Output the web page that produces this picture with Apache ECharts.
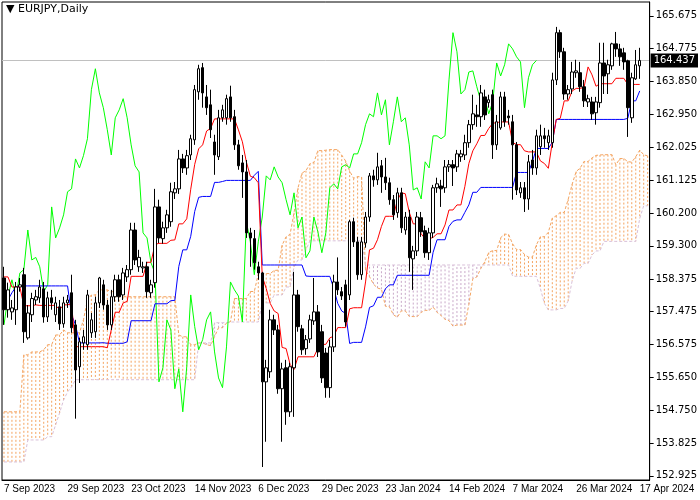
<!DOCTYPE html>
<html><head><meta charset="utf-8">
<script src="https://cdn.jsdelivr.net/npm/echarts@6/dist/echarts.min.js"></script>
<style>html,body{margin:0;padding:0;background:#fff}#c{width:700px;height:500px}</style>
</head><body><div id="c"></div>
<script>
// [open, close, low, high]
const candles = [
[158.41,157.53,157.11,158.72],[157.53,158.08,157.31,158.28],[157.47,157.58,157.25,157.80],[157.53,158.16,157.11,158.30],[158.16,158.22,158.03,158.41],
[158.50,156.92,156.61,158.69],[156.75,157.44,156.70,157.66],[157.39,157.84,157.19,158.00],[157.80,157.89,157.66,158.08],[157.86,158.16,157.72,158.36],
[158.11,157.33,157.17,158.30],[157.33,157.86,157.19,158.03],[157.86,157.72,157.53,158.08],[157.39,157.72,157.19,157.89],[157.61,157.14,156.97,157.80],
[157.14,157.72,157.03,157.89],[157.72,157.80,157.58,157.94],[158.00,157.03,156.89,158.50],[157.11,155.86,154.51,157.25],[155.95,156.64,155.50,156.75],
[156.61,156.78,156.42,156.97],[156.56,157.94,156.42,158.08],[156.89,157.25,156.75,157.44],[156.92,157.72,156.75,157.89],[157.72,158.41,157.58,158.44],
[158.22,157.66,157.53,158.36],[157.66,157.11,156.97,157.80],[157.11,157.89,156.97,158.08],[157.89,158.36,157.75,158.50],[158.36,157.89,157.75,158.50],
[157.94,158.55,157.80,158.69],[158.44,158.64,158.30,158.77],[158.64,159.74,158.50,159.94],[159.74,158.91,158.77,159.94],[158.72,158.98,158.58,159.19],
[158.69,158.72,158.55,158.86],[158.72,158.03,157.86,158.86],[158.00,158.22,157.86,158.36],[158.28,160.38,158.14,160.88],[160.38,159.52,159.38,160.58],
[159.50,159.80,159.36,159.97],[159.80,160.16,159.66,160.30],[159.97,160.80,159.83,161.05],[160.77,160.88,160.60,161.07],[160.88,161.71,160.74,161.96],
[161.71,161.46,161.32,161.85],[161.46,161.80,161.27,161.96],[161.82,162.27,161.68,162.38],[162.24,163.63,162.10,163.76],[163.57,164.21,163.35,164.32],
[164.24,163.54,163.13,164.37],[163.43,163.13,162.93,163.76],[163.21,162.52,162.29,163.63],[162.18,161.82,161.27,162.38],[161.77,162.85,161.68,163.07],
[162.85,163.07,162.74,163.21],[162.85,163.38,162.66,163.49],[163.43,162.85,162.74,163.74],[162.88,162.10,161.96,163.07],[162.10,161.52,161.41,162.24],
[161.60,161.35,160.63,161.82],[161.35,159.66,159.52,161.68],[159.66,159.52,158.72,159.80],[159.50,158.83,158.64,159.74],[158.72,158.55,158.36,158.86],
[158.55,155.53,153.17,158.58],[155.53,155.92,153.87,156.14],[155.81,157.25,155.64,157.53],[157.25,156.97,156.83,157.39],[156.97,155.34,155.20,157.11],
[155.34,155.89,153.87,156.06],[155.92,154.70,154.34,156.14],[154.70,155.95,154.56,156.06],[155.92,157.94,154.56,158.58],[157.94,157.06,156.92,158.08],
[157.00,156.42,156.28,157.11],[156.45,156.70,156.28,156.83],[156.72,157.25,156.61,157.39],[157.22,157.47,157.11,158.41],[157.47,156.36,156.22,157.66],
[156.92,155.64,155.50,157.11],[156.33,155.37,155.09,156.47],[155.37,156.50,155.09,156.70],[156.50,158.30,156.36,158.50],[158.30,158.08,157.94,158.98],
[158.03,157.91,157.80,158.16],[158.22,157.19,157.06,158.36],[157.94,159.97,157.80,160.02],[159.97,159.41,159.27,160.08],[159.41,158.50,158.36,159.55],
[158.50,159.41,158.36,159.55],[159.38,160.10,159.25,160.24],[160.10,161.24,159.97,161.32],[161.24,161.13,160.94,161.41],[161.13,161.49,160.99,161.88],
[161.52,161.21,160.77,161.68],[161.21,161.05,160.85,161.74],[161.05,160.58,160.44,161.19],[160.58,160.16,160.02,160.71],[160.22,160.77,160.08,160.91],
[160.77,159.80,159.66,160.91],[159.74,160.10,159.61,160.24],[160.10,158.97,158.58,160.30],[158.94,159.16,158.08,159.30],[159.16,160.10,159.02,160.24],
[160.08,159.69,159.55,160.24],[159.72,159.11,158.97,159.86],[159.11,159.66,158.91,159.80],[159.66,160.91,159.52,160.99],[160.91,161.02,160.77,161.19],
[160.96,160.88,160.38,161.13],[160.91,161.49,160.77,161.68],[161.49,161.55,161.35,161.68],[161.55,161.46,160.96,161.68],[161.49,161.85,161.35,161.96],
[161.77,161.85,161.63,161.96],[161.82,162.16,161.68,162.38],[162.16,162.66,162.02,162.79],[162.66,162.96,162.52,163.49],[162.93,162.88,162.60,163.21],
[162.88,163.54,162.60,163.76],[163.43,162.93,162.79,163.63],[163.27,163.35,163.13,163.49],[163.49,162.10,161.71,163.63],[162.10,162.74,161.96,162.93],
[162.57,163.43,162.52,163.57],[163.43,162.74,162.60,163.57],[162.90,162.85,162.66,163.07],[162.74,162.10,160.58,162.93],[162.10,160.85,160.71,162.18],
[160.77,160.91,160.63,161.07],[160.91,160.60,160.24,161.07],[160.60,161.63,160.30,161.82],[161.68,161.46,161.27,161.96],[161.46,162.35,161.27,162.52],
[162.05,162.35,161.82,162.66],[162.35,162.27,162.02,162.57],[162.16,162.35,161.96,162.52],[162.16,163.90,162.02,164.10],[163.90,165.21,163.76,165.37],
[165.21,164.68,164.51,165.29],[164.68,163.51,163.35,164.79],[163.51,163.63,163.35,163.76],[163.65,164.12,163.51,164.40],[164.10,164.15,163.96,164.46],
[164.10,163.71,163.57,164.40],[163.71,163.32,163.15,163.90],[163.29,163.38,163.15,163.49],[163.29,162.96,162.79,163.43],[162.99,163.29,162.66,163.43],
[163.27,164.37,163.13,164.93],[164.37,164.01,163.51,164.93],[164.07,164.32,163.51,164.46],[164.29,164.90,164.18,164.93],[164.90,164.76,164.54,165.23],
[164.76,164.54,164.29,164.90],[164.65,164.40,164.18,164.79],[164.43,163.13,162.32,164.46],[162.85,163.96,162.71,164.10],[163.93,164.32,163.90,164.73],
[164.29,164.44,163.93,164.79]
];
// Ichimoku values read where earlier history is off-chart
const tenkanEarly = [158.44,158.44,158.16,158.16,158.16,157.64,157.64,157.64];
const kijunEarly = [157.80,157.80,158.00,158.16,158.19,158.19,158.19,158.19,158.19,158.19,158.19,158.19,158.19,158.19,158.19,158.19,158.19,157.39,157.11,156.61,156.61,156.61,156.61,156.61,156.61];
const spanAEarly = [154.70,154.70,154.70,154.70,154.70,156.28,156.28,156.36,156.36,156.36,156.42,156.56,156.56,156.83,156.83,156.97,156.89,156.89,156.89,156.89,157.25,157.80,157.94,157.94,158.08,158.08,158.08,158.03,158.03,158.03,157.89,157.89,157.89,157.89,157.89,157.89,157.89,157.89,157.89,157.89,157.89,157.89,157.89,157.89,156.83,156.78,156.78,156.56,156.56,156.61,156.61];
const spanBEarly = [153.31,153.31,153.31,153.31,153.31,153.31,153.92,153.92,153.92,153.92,153.92,154.01,154.01,154.34,154.67,155.03,155.25,155.39,
155.59,155.59,155.59,155.59,155.59,155.59,155.59,155.59,155.59,155.59,155.59,155.59,155.59,155.59,155.59,155.59,155.59,155.59,155.59,155.59,155.59,155.59,155.59,155.59,155.59,155.59,155.59,155.59,155.59,155.59,155.59,
156.61,156.61,156.61,156.61,157.17,157.17,157.17,157.17,157.19,157.19,157.19,157.19,157.19,157.19,157.19,157.19,157.72,157.72,157.72,157.94,157.94,157.94,158.16,158.16,158.72,158.91,158.91,159.19];
const xTickLabels = ['7 Sep 2023','29 Sep 2023','23 Oct 2023','14 Nov 2023','6 Dec 2023','29 Dec 2023','23 Jan 2024','14 Feb 2024','7 Mar 2024','26 Mar 2024','17 Apr 2024'];
const yTicks = [152.925,153.825,154.750,155.650,156.575,157.475,158.375,159.300,160.200,161.125,162.025,162.950,163.850,164.775,165.675];
const lastPrice = 164.437;

const N = candles.length, TOTAL = N + 2, SHIFT = 26;
function mid(a, b) { let h = -Infinity, l = Infinity; for (let k = a; k <= b; k++) { h = Math.max(h, candles[k][3]); l = Math.min(l, candles[k][2]); } return (h + l) / 2; }
const tenkan = [], kijun = [];
for (let i = 0; i < N; i++) {
  tenkan.push(i < 8 ? tenkanEarly[i] : +mid(i - 8, i).toFixed(3));
  kijun.push(i < 25 ? kijunEarly[i] : +mid(i - 25, i).toFixed(3));
}
const spanA = [], spanB = [];
for (let i = 0; i < TOTAL; i++) {
  spanA.push(i < 51 ? spanAEarly[i] : +((tenkan[i - SHIFT] + kijun[i - SHIFT]) / 2).toFixed(3));
  spanB.push(i < 77 ? spanBEarly[i] : +mid(i - 77, i - SHIFT).toFixed(3));
}
const chikou = [];
for (let i = 0; i + SHIFT < N; i++) chikou.push(candles[i + SHIFT][1]);
const cats = Array.from({length: TOTAL}, (_, i) => String(i));
const cloud = spanA.map((a, i) => [i, a, spanB[i]]);

const chart = echarts.init(document.getElementById('c'));
const labelInt = (i) => i % 16 === 0;
chart.setOption({
  animation: false,
  backgroundColor: '#fff',
  textStyle: {fontFamily: 'DejaVu Sans'},
  grid: {left: 2, right: 48, top: 2, bottom: 20, show: true, borderColor: '#000', borderWidth: 1},
  xAxis: {type: 'category', data: cats, boundaryGap: true,
    axisLine: {lineStyle: {color: '#000'}},
    axisTick: {interval: labelInt, length: 5, lineStyle: {color: '#000'}, alignWithLabel: true},
    axisLabel: {interval: labelInt, align: 'left', margin: 4, color: '#000', fontSize: 10, fontFamily: 'Liberation Sans',
      hideOverlap: false, showMaxLabel: true,
      formatter: (v, idx) => (idx % 16 === 0 ? (xTickLabels[idx / 16] || '') : '')},
    splitLine: {show: false}},
  yAxis: {type: 'value', position: 'right', min: 152.81, max: 166.06, scale: true,
    axisLine: {show: true, lineStyle: {color: '#000'}},
    axisTick: {show: true, length: 4, customValues: yTicks, lineStyle: {color: '#000'}},
    axisLabel: {customValues: yTicks, color: '#000', fontSize: 10, margin: 6, formatter: v => v.toFixed(3)},
    splitLine: {show: false}},
  graphic: [{type: 'text', left: 6, top: 4, style: {text: '▼ EURJPY,Daily', fontSize: 11, fill: '#000', fontFamily: 'DejaVu Sans'}}],
  series: [
    {type: 'custom', data: cloud, encode: {x: 0, y: [1, 2]}, z: 1,
      renderItem: (params, api) => {
        const i = api.value(0), a = api.value(1), b = api.value(2);
        const p1 = api.coord([i, a]), p2 = api.coord([i, b]);
        return {type: 'line', shape: {x1: p1[0], y1: p1[1], x2: p2[0], y2: p2[1]},
          style: {stroke: a >= b ? '#F4A460' : '#C9A9C9', lineWidth: 1, lineDash: [2, 2]}};
      }},
    {type: 'line', data: spanA, showSymbol: false, z: 2, lineStyle: {color: '#F4A460', width: 1, type: [3, 2]}},
    {type: 'line', data: spanB, showSymbol: false, z: 2, lineStyle: {color: '#D8BFD8', width: 1, type: [3, 2]}},
    {type: 'line', data: chikou, showSymbol: false, z: 3, lineStyle: {color: '#00FF00', width: 1}},
    {type: 'line', data: kijun, showSymbol: false, z: 3, lineStyle: {color: '#0000FF', width: 1}},
    {type: 'line', data: tenkan, showSymbol: false, z: 3, lineStyle: {color: '#FF0000', width: 1}},
    {type: 'candlestick', data: candles, barWidth: 3, z: 5,
      itemStyle: {color: '#fff', color0: '#000', borderColor: '#000', borderColor0: '#000', borderWidth: 1},
      markLine: {symbol: 'none', silent: true, z: 0,
        lineStyle: {color: '#c0c0c0', width: 1, type: 'solid'},
        label: {show: true, position: 'end', formatter: lastPrice.toFixed(3), color: '#fff', backgroundColor: '#000',
          padding: [2, 3], fontSize: 10, distance: 1},
        data: [{yAxis: lastPrice}]}}
  ]
});
</script></body></html>
